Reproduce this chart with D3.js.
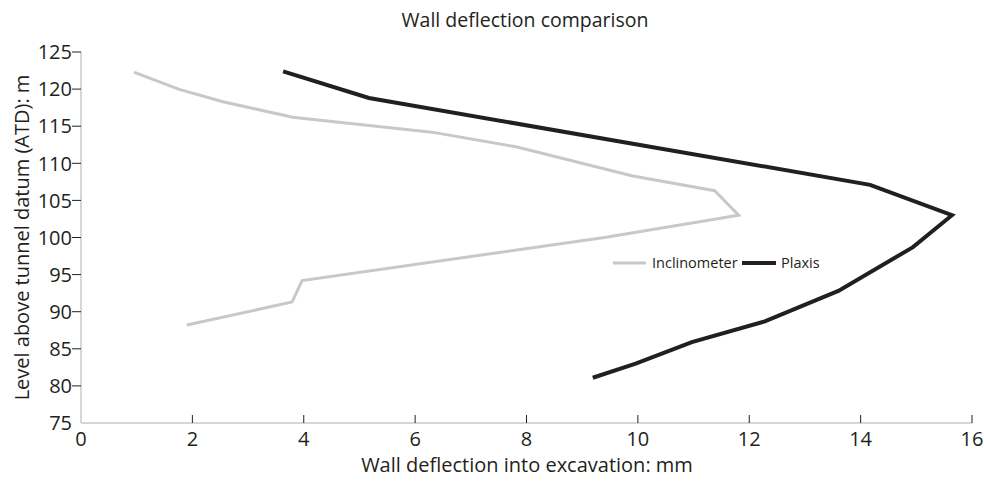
<!DOCTYPE html>
<html>
<head>
<meta charset="utf-8">
<script src="https://cdn.jsdelivr.net/npm/d3@7"></script>
<style>
  html, body { margin: 0; padding: 0; background: #fff; }
  text { font-family: "Open Sans", "Noto Sans", sans-serif; fill: #231f20; }
</style>
</head>
<body>
<svg id="chart" width="984" height="481"></svg>
<script>
const title = "Wall deflection comparison";
const xLabel = "Wall deflection into excavation: mm";
const yLabel = "Level above tunnel datum (ATD): m";
const xTicks = [0, 2, 4, 6, 8, 10, 12, 14, 16];
const yTicks = [75, 80, 85, 90, 95, 100, 105, 110, 115, 120, 125];
const seriesNames = ["Inclinometer", "Plaxis"];

const inclinometerDeflection = [0.95, 1.75, 2.55, 3.8, 6.3, 7.83, 9.91, 11.38, 11.81, 9.4, 3.97, 3.79, 1.9];
const inclinometerLevel      = [122.3, 120.0, 118.3, 116.2, 114.2, 112.2, 108.3, 106.3, 103.0, 100.0, 94.2, 91.3, 88.2];

const plaxisDeflection = [3.63, 5.17, 14.17, 15.64, 14.94, 13.6, 12.28, 10.97, 9.96, 9.19];
const plaxisLevel      = [122.4, 118.8, 107.1, 103.0, 98.7, 92.8, 88.7, 85.9, 83.0, 81.1];

const svg = d3.select("#chart");
const x = d3.scaleLinear().domain([0, 16]).range([81, 972]);
const y = d3.scaleLinear().domain([75, 125]).range([423, 52]);

const axisColor = "#c8c8c8";
svg.append("line").attr("x1", x(0)).attr("x2", x(16)).attr("y1", y(75)).attr("y2", y(75))
  .attr("stroke", axisColor).attr("stroke-width", 1.5);
svg.append("line").attr("x1", x(0)).attr("x2", x(0)).attr("y1", y(75)).attr("y2", y(125))
  .attr("stroke", axisColor).attr("stroke-width", 1.5);

xTicks.forEach(t => {
  if (t !== 0) {
    svg.append("line").attr("x1", x(t)).attr("x2", x(t)).attr("y1", y(75)).attr("y2", y(75) - 8)
      .attr("stroke", "#231f20").attr("stroke-width", 1);
  }
  svg.append("text").attr("x", x(t)).attr("y", 446).attr("text-anchor", "middle")
    .attr("font-size", 20).text(t);
});
yTicks.forEach(t => {
  if (t !== 75) {
    svg.append("line").attr("x1", x(0) - 9).attr("x2", x(0)).attr("y1", y(t)).attr("y2", y(t))
      .attr("stroke", "#231f20").attr("stroke-width", 1);
  }
  svg.append("text").attr("x", 72).attr("y", y(t)).attr("dy", "0.36em").attr("text-anchor", "end")
    .attr("font-size", 20).text(t);
});

svg.append("text").attr("x", 525).attr("y", 27).attr("text-anchor", "middle").attr("font-size", 19.5).text(title);
svg.append("text").attr("x", 527).attr("y", 472).attr("text-anchor", "middle").attr("font-size", 20).text(xLabel);
svg.append("text").attr("transform", `translate(29,${(y(75)+y(125))/2}) rotate(-90)`)
  .attr("text-anchor", "middle").attr("font-size", 20).text(yLabel);

const line = d3.line().x(d => x(d[0])).y(d => y(d[1]));
const incl = inclinometerDeflection.map((v, i) => [v, inclinometerLevel[i]]);
const plax = plaxisDeflection.map((v, i) => [v, plaxisLevel[i]]);
svg.append("path").attr("d", line(incl)).attr("fill", "none").attr("stroke", "#c8c8c8")
  .attr("stroke-width", 3).attr("stroke-linejoin", "miter");
svg.append("path").attr("d", line(plax)).attr("fill", "none").attr("stroke", "#231f20")
  .attr("stroke-width", 4).attr("stroke-linejoin", "miter");

const lg = svg.append("g");
lg.append("line").attr("x1", 613).attr("x2", 646).attr("y1", 263).attr("y2", 263)
  .attr("stroke", "#c8c8c8").attr("stroke-width", 3);
lg.append("text").attr("x", 652).attr("y", 263).attr("dy", "0.36em").attr("font-size", 14.5).text(seriesNames[0]);
lg.append("line").attr("x1", 742).attr("x2", 776).attr("y1", 263).attr("y2", 263)
  .attr("stroke", "#231f20").attr("stroke-width", 4);
lg.append("text").attr("x", 781).attr("y", 263).attr("dy", "0.36em").attr("font-size", 14.5).text(seriesNames[1]);
</script>
</body>
</html>
